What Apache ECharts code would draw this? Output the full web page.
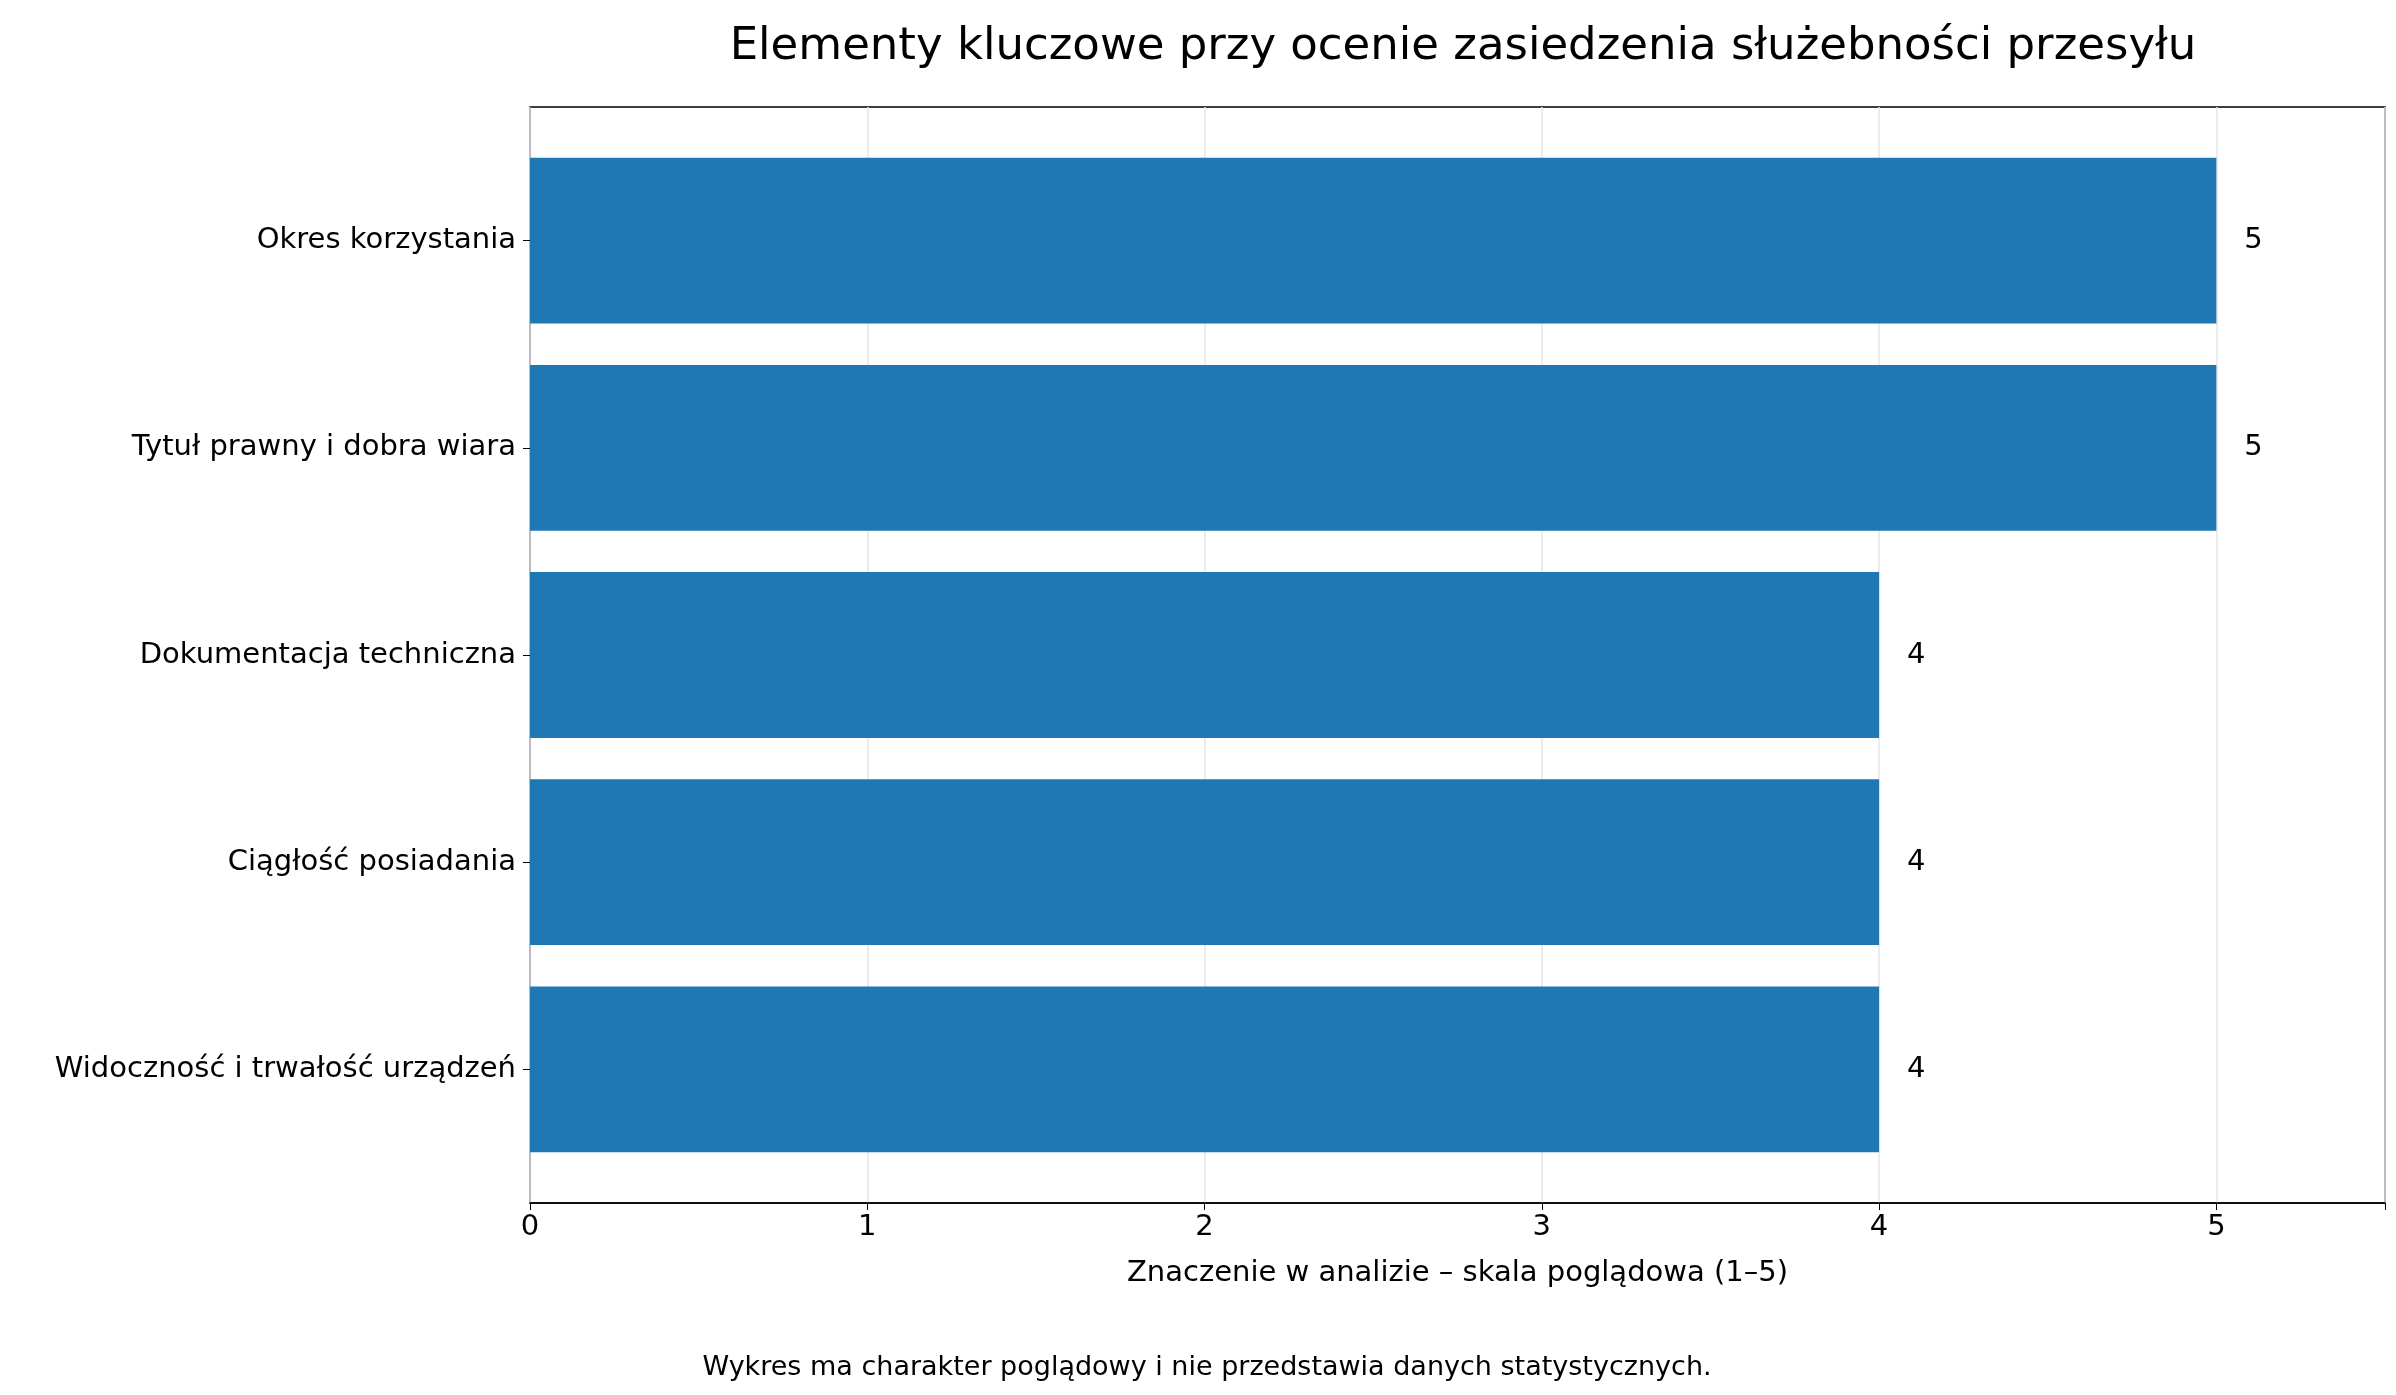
<!DOCTYPE html>
<html lang="pl">
<head>
<meta charset="utf-8">
<title>Zasiedzenie służebności przesyłu</title>
<script src="https://cdn.jsdelivr.net/npm/echarts@6/dist/echarts.min.js"></script>
</head>
<body style="margin:0;background:#fff">
<div id="chart" style="width:2396px;height:1395px"></div>
<script>
const categories = ['Okres korzystania', 'Tytuł prawny i dobra wiara', 'Dokumentacja techniczna', 'Ciągłość posiadania', 'Widoczność i trwałość urządzeń'];
const values = [5, 5, 4, 4, 4];
const xMax = 5.5;

const chart = echarts.init(document.getElementById('chart'));
const font = 'DejaVu Sans';
chart.setOption({
  textStyle: { fontFamily: font },
  title: [{
    text: 'Elementy kluczowe przy ocenie zasiedzenia służebności przesyłu',
    left: 1458, top: 20, textAlign: 'center',
    textStyle: { fontSize: 45, fontWeight: 'normal', color: '#000', fontFamily: font }
  }, {
    text: 'Wykres ma charakter poglądowy i nie przedstawia danych statystycznych.',
    left: 1202, top: 1349, textAlign: 'center',
    textStyle: { fontSize: 27, fontWeight: 'normal', color: '#000', fontFamily: font }
  }],
  grid: [
    { left: 530, right: 11, top: 107, bottom: 192, show: true, borderColor: '#000', borderWidth: 1.5, backgroundColor: 'transparent' },
    { left: 530, right: 11, top: 137, bottom: 222 }
  ],
  xAxis: [{
    gridIndex: 0, type: 'value', min: 0, max: xMax, interval: 1,
    name: 'Znaczenie w analizie – skala poglądowa (1–5)',
    nameLocation: 'middle', nameGap: 56,
    nameTextStyle: { fontSize: 29, color: '#000' },
    axisLabel: { fontSize: 29, color: '#000', margin: 10, formatter: v => Number.isInteger(v) ? v : '' },
    axisLine: { show: true, lineStyle: { color: '#000', width: 1.5 } },
    axisTick: { show: true, length: 7, lineStyle: { color: '#000' } },
    splitLine: { show: true, lineStyle: { color: '#e6e6e6', width: 1.5 } }
  }, {
    gridIndex: 1, type: 'value', min: 0, max: xMax, show: false
  }],
  yAxis: [{
    gridIndex: 0, type: 'value', show: false
  }, {
    gridIndex: 1, type: 'category', data: categories, inverse: true,
    axisLabel: { fontSize: 29, color: '#000', margin: 14 },
    axisLine: { show: false },
    axisTick: { show: true, alignWithLabel: true, length: 7, lineStyle: { color: '#000' } }
  }],
  series: [{
    type: 'bar', data: values, xAxisIndex: 1, yAxisIndex: 1, barCategoryGap: '20%',
    itemStyle: { color: '#1f77b4' },
    label: { show: true, position: 'right', distance: 28, fontSize: 29, color: '#000' }
  }]
});
</script>
</body>
</html>
